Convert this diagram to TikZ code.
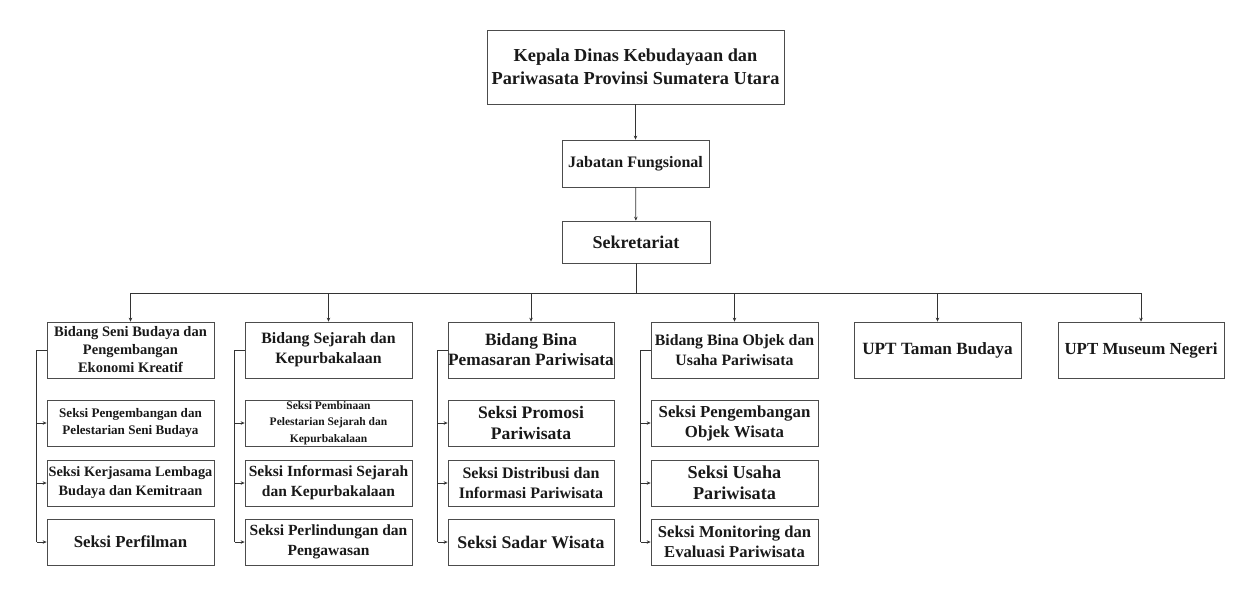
\documentclass[tikz,border=0pt]{standalone}
\usepackage{fontspec}
\setmainfont{Liberation Serif}
\usetikzlibrary{arrows.meta}
\tikzset{
  box/.style={draw=black!70, line width=0.7pt, inner sep=0pt, align=center, font=\bfseries, text=black!90},
  link/.style={draw=black!80, line width=0.7pt},
  arr/.style={link, -{Stealth[length=4pt,width=3.5pt]}},
}
\newcommand{\fs}[2]{\bfseries\fontsize{#1}{#2}\selectfont}
\begin{document}
\begin{tikzpicture}[x=1pt,y=-1pt]
\useasboundingbox (0,0) rectangle (1246,603);
% top
\node[box, minimum width=297, minimum height=74, font=\fs{18.3}{23}] (kep) at (635.5,67) {Kepala Dinas Kebudayaan dan\\Pariwasata Provinsi Sumatera Utara};
\node[box, minimum width=147, minimum height=47, font=\fs{16}{18}] (jab) at (635.5,163.5) {Jabatan Fungsional};
\node[box, minimum width=148, minimum height=42, font=\fs{18}{18}] (sek) at (636,242) {Sekretariat};
% row 1
\node[box, minimum width=167, minimum height=56, font=\fs{14.5}{18}] (b1) at (130.5,350) {Bidang Seni Budaya dan\\Pengembangan\\Ekonomi Kreatif};
\node[box, minimum width=167, minimum height=56, font=\fs{15.8}{20}] (b2) at (328.5,350) {Bidang Sejarah dan\\Kepurbakalaan};
\node[box, minimum width=166, minimum height=56, font=\fs{17.3}{20}] (b3) at (531,350) {Bidang Bina\\Pemasaran Pariwisata};
\node[box, minimum width=167, minimum height=56, font=\fs{15.8}{20}] (b4) at (734.5,350) {Bidang Bina Objek dan\\Usaha Pariwisata};
\node[box, minimum width=167, minimum height=56, font=\fs{17.2}{18}] (b5) at (937.5,350) {UPT Taman Budaya};
\node[box, minimum width=166, minimum height=56, font=\fs{16.9}{18}] (b6) at (1141,350) {UPT Museum Negeri};
% column 1
\node[box, minimum width=167, minimum height=46, font=\fs{13.1}{17}] (s11) at (130.5,423) {Seksi Pengembangan dan\\Pelestarian Seni Budaya};
\node[box, minimum width=167, minimum height=46, font=\fs{14.3}{19}] (s12) at (130.5,483) {Seksi Kerjasama Lembaga\\Budaya dan Kemitraan};
\node[box, minimum width=167, minimum height=46, font=\fs{16.8}{18}] (s13) at (130.5,542) {Seksi Perfilman};
% column 2
\node[box, minimum width=167, minimum height=46, font=\fs{11.5}{16.5}] (s21) at (328.5,423) {Seksi Pembinaan\\Pelestarian Sejarah dan\\Kepurbakalaan};
\node[box, minimum width=167, minimum height=46, font=\fs{15.5}{20}] (s22) at (328.5,483) {Seksi Informasi Sejarah\\dan Kepurbakalaan};
\node[box, minimum width=167, minimum height=46, font=\fs{15.5}{20}] (s23) at (328.5,542) {Seksi Perlindungan dan\\Pengawasan};
% column 3
\node[box, minimum width=166, minimum height=46, font=\fs{17.6}{21}] (s31) at (531,423) {Seksi Promosi\\Pariwisata};
\node[box, minimum width=166, minimum height=46, font=\fs{16}{20}] (s32) at (531,483) {Seksi Distribusi dan\\Informasi Pariwisata};
\node[box, minimum width=166, minimum height=46, font=\fs{17.8}{18}] (s33) at (531,542) {Seksi Sadar Wisata};
% column 4
\node[box, minimum width=167, minimum height=46, font=\fs{16.8}{20}] (s41) at (734.5,423) {Seksi Pengembangan\\Objek Wisata};
\node[box, minimum width=167, minimum height=46, font=\fs{18.2}{21}] (s42) at (734.5,483) {Seksi Usaha\\Pariwisata};
\node[box, minimum width=167, minimum height=46, font=\fs{16.6}{20}] (s43) at (734.5,542) {Seksi Monitoring dan\\Evaluasi Pariwisata};
% top connectors
\draw[arr] (kep) -- (jab);
\draw[arr] (jab) -- (sek);
\coordinate (bus) at (636,293);
\draw[link] (sek.south) -- (bus);
\draw[link] (b1.north |- bus) -- (b6.north |- bus);
\foreach \b in {b1,b2,b3,b4,b5,b6}{
  \draw[arr] (\b.north |- bus) -- (\b.north);
}
% brackets
\foreach \c in {1,2,3,4}{
  \draw[link] (b\c.west) -- ++(-10,0) coordinate (k\c) -- (k\c |- s\c3.west);
  \foreach \r in {1,2,3}{
    \draw[arr] (k\c |- s\c\r.west) -- (s\c\r.west);
  }
}
\end{tikzpicture}
\end{document}
